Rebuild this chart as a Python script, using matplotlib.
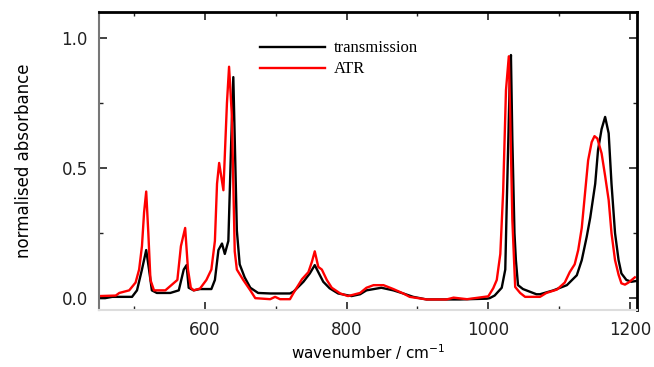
import matplotlib.pyplot as plt
import numpy as np

# absorbance spectra, normalised to the strongest band
trans_wn = [450, 459, 469, 487, 497, 504, 511, 517, 521, 525, 532, 551, 563, 570,
            574, 577, 584, 593, 609, 614, 619, 624, 628, 633, 637, 640, 645, 649,
            656, 664, 675, 692, 720, 725, 739, 748, 755, 760, 767, 776, 788, 807,
            819, 828, 849, 866, 880, 894, 913, 960, 998, 1002, 1009, 1019, 1024,
            1026, 1030, 1032, 1034, 1037, 1039, 1042, 1049, 1068, 1073, 1092, 1111,
            1125, 1132, 1139, 1144, 1151, 1155, 1160, 1165, 1170, 1174, 1179, 1184,
            1188, 1195, 1202, 1209]
trans_abs = [0.0, 0.0, 0.005, 0.005, 0.005, 0.03, 0.11, 0.185, 0.11, 0.03, 0.02, 0.02,
             0.03, 0.11, 0.127, 0.04, 0.03, 0.035, 0.035, 0.07, 0.185, 0.21, 0.17,
             0.22, 0.6, 0.85, 0.26, 0.13, 0.08, 0.04, 0.02, 0.018, 0.018, 0.025,
             0.063, 0.095, 0.127, 0.1, 0.063, 0.038, 0.018, 0.008, 0.015, 0.03, 0.04,
             0.03, 0.018, 0.005, -0.005, -0.005, -0.002, 0.0, 0.01, 0.04, 0.11, 0.35,
             0.8, 0.935, 0.61, 0.25, 0.146, 0.05, 0.035, 0.015, 0.015, 0.03, 0.05,
             0.088, 0.146, 0.236, 0.31, 0.44, 0.57, 0.65, 0.697, 0.634, 0.44, 0.25,
             0.146, 0.095, 0.07, 0.063, 0.066]

atr_wn = [450, 474, 479, 493, 502, 507, 511, 514, 517, 520, 523, 528, 544, 561, 566,
          572, 576, 580, 584, 593, 602, 609, 614, 617, 620, 626, 631, 634, 638, 640,
          642, 645, 654, 664, 671, 692, 699, 706, 720, 725, 737, 746, 751, 755, 760,
          765, 772, 779, 791, 802, 819, 828, 838, 852, 866, 880, 889, 913, 941, 951,
          970, 1000, 1007, 1012, 1017, 1021, 1025, 1029, 1031, 1034, 1038, 1045,
          1052, 1073, 1082, 1097, 1108, 1115, 1122, 1127, 1132, 1137, 1141, 1146,
          1150, 1154, 1160, 1165, 1170, 1174, 1179, 1184, 1188, 1193, 1198, 1207]
atr_abs = [0.008, 0.01, 0.02, 0.03, 0.06, 0.11, 0.2, 0.33, 0.41, 0.25, 0.07, 0.03,
           0.03, 0.07, 0.2, 0.27, 0.11, 0.04, 0.03, 0.037, 0.07, 0.11, 0.22, 0.44,
           0.52, 0.415, 0.75, 0.89, 0.7, 0.44, 0.18, 0.11, 0.07, 0.03, 0.0, -0.004,
           0.005, -0.004, -0.004, 0.02, 0.073, 0.1, 0.14, 0.18, 0.12, 0.11, 0.07,
           0.04, 0.018, 0.008, 0.02, 0.04, 0.05, 0.05, 0.035, 0.018, 0.005, -0.005,
           -0.005, 0.002, -0.004, 0.007, 0.038, 0.07, 0.17, 0.41, 0.8, 0.93, 0.7,
           0.3, 0.043, 0.02, 0.005, 0.005, 0.02, 0.033, 0.06, 0.1, 0.13, 0.185, 0.27,
           0.415, 0.53, 0.6, 0.623, 0.614, 0.557, 0.47, 0.377, 0.25, 0.146, 0.09,
           0.057, 0.052, 0.06, 0.08]

fig = plt.figure(figsize=(6.54, 3.67), dpi=100)
ax = fig.add_axes([0.151, 0.155, 0.823, 0.812])

ax.plot(trans_wn, trans_abs, color="black", lw=1.7, label="transmission")
ax.plot(atr_wn, atr_abs, color="red", lw=1.7, label="ATR")

ax.set_xlim(450, 1210)
ax.set_ylim(-0.046, 1.1)
ax.set_xticks([600, 800, 1000, 1200])
ax.set_xticks([500, 700, 900, 1100], minor=True)
ax.set_yticks([0.0, 0.5, 1.0])
ax.set_yticks([0.25, 0.75], minor=True)
ax.yaxis.set_major_formatter(plt.FormatStrFormatter("%.1f"))

ax.tick_params(which="both", direction="in", top=True, right=True,
               labelsize=12, colors="#222222", pad=8)
ax.tick_params(which="major", length=6, width=1.2)
ax.tick_params(which="minor", length=3, width=1.0)

ax.spines["top"].set_linewidth(2.0)
ax.spines["right"].set_linewidth(2.0)
ax.spines["left"].set_color("#777777")
ax.spines["left"].set_linewidth(1.5)
ax.spines["bottom"].set_color("#dddddd")
ax.spines["bottom"].set_linewidth(1.5)

ax.set_xlabel("wavenumber / cm$^{-1}$", fontsize=11, labelpad=2)
ax.set_ylabel("normalised absorbance", fontsize=12, labelpad=20)

ax.legend(loc="upper left", bbox_to_anchor=(0.30, 0.905), frameon=False,
          borderaxespad=0, borderpad=0, handlelength=3.9, handletextpad=0.5,
          labelspacing=0.3, prop={"family": "Liberation Serif", "size": 12})

fig.savefig("out.png", dpi=100)
